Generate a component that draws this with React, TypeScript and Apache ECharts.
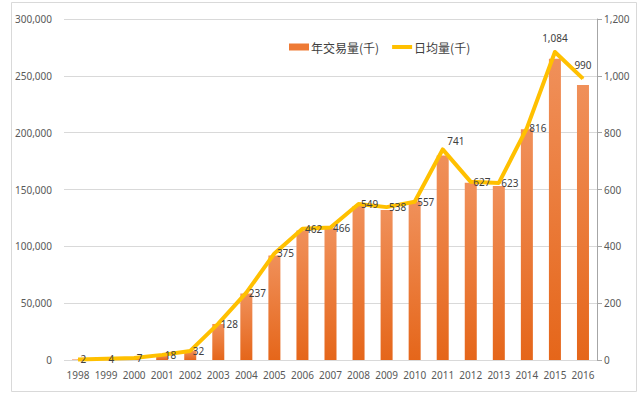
import React, { useEffect, useRef } from "react";
import * as echarts from "echarts";

const years = ["1998","1999","2000","2001","2002","2003","2004","2005","2006","2007","2008","2009","2010","2011","2012","2013","2014","2015","2016"];
const annualVolume = [500, 1000, 1700, 4400, 8000, 31700, 58500, 92000, 114000, 116000, 135500, 132000, 139500, 180000, 156000, 153000, 203000, 265000, 242000];
const dailyAvg = [2, 4, 7, 18, 32, 128, 237, 375, 462, 466, 549, 538, 557, 741, 627, 623, 816, 1084, 990];
const leftTicks = [0, 50000, 100000, 150000, 200000, 250000, 300000];
const rightTicks = [0, 200, 400, 600, 800, 1000, 1200];

const fmt = (v: number) => v.toLocaleString("en-US");

export default function App() {
  const ref = useRef<HTMLDivElement>(null);
  useEffect(() => {
    if (!ref.current) return;
    const chart = echarts.init(ref.current, null, { renderer: "svg" });
    const font = "'Noto Sans', sans-serif";
    const lineData = dailyAvg.map((v) => {
      if (v === 1084) return { value: v, label: { position: "top", distance: 8 } };
      if (v === 990) return { value: v, label: { position: "top", distance: 8 } };
      if (v === 741) return { value: v, label: { position: "right", offset: [2, -8] } };
      return v;
    });
    chart.setOption({
      animation: false,
      backgroundColor: "#ffffff",
      textStyle: { fontFamily: font },
      graphic: [
        {
          type: "rect",
          shape: { x: 11.5, y: 2.5, width: 625, height: 389 },
          style: { fill: "none", stroke: "#d9d9d9", lineWidth: 1 },
          silent: true,
        },
      ],
      legend: {
        top: 36,
        left: 284,
        itemGap: 13,
        itemWidth: 20,
        itemHeight: 7,
        textStyle: { fontSize: 12, color: "#404040", fontFamily: "'Noto Sans CJK SC', sans-serif", padding: [0, 0, 0, -3] },
        data: [
          { name: "年交易量(千)", icon: "rect", itemStyle: { color: "#ee7a35" } },
          { name: "日均量(千)", icon: "path://M0,0H20V4H0Z", itemStyle: { color: "#ffc000" } },
        ],
      },
      grid: { left: 64, right: 43, top: 19, bottom: 36 },
      xAxis: {
        type: "category",
        data: years,
        axisLine: { show: false },
        axisTick: { show: false },
        axisLabel: { color: "#595959", fontSize: 10, margin: 10, interval: 0, hideOverlap: false },
      },
      yAxis: [
        {
          type: "value",
          min: 0,
          max: leftTicks[leftTicks.length - 1],
          interval: leftTicks[1] - leftTicks[0],
          axisLine: { show: false },
          axisTick: { show: false },
          axisLabel: { color: "#595959", fontSize: 10, margin: 12, formatter: (v: number) => fmt(v) },
          splitLine: { lineStyle: { color: "#d9d9d9", width: 1 } },
        },
        {
          type: "value",
          position: "right",
          min: 0,
          max: rightTicks[rightTicks.length - 1],
          interval: rightTicks[1] - rightTicks[0],
          axisLine: { show: true, lineStyle: { color: "#a6a6a6" } },
          axisTick: { show: true, length: 5, lineStyle: { color: "#a6a6a6" } },
          axisLabel: { color: "#595959", fontSize: 10, margin: 7, formatter: (v: number) => fmt(v) },
          splitLine: { show: false },
        },
      ],
      series: [
        {
          name: "年交易量(千)",
          type: "bar",
          yAxisIndex: 0,
          barWidth: 12,
          data: annualVolume,
          itemStyle: {
            color: new echarts.graphic.LinearGradient(0, 0, 0, 1, [
              { offset: 0, color: "#f0905a" },
              { offset: 1, color: "#e5661a" },
            ]),
          },
        },
        {
          name: "日均量(千)",
          type: "line",
          yAxisIndex: 1,
          data: lineData,
          symbol: "circle",
          symbolSize: 1,
          showSymbol: true,
          lineStyle: { color: "#ffc000", width: 4, join: "round" },
          itemStyle: { color: "#ffc000" },
          z: 5,
          label: {
            show: true,
            position: "right",
            distance: 2,
            color: "#404040",
            fontSize: 10,
            formatter: (p: any) => fmt(p.value),
          },
        },
      ],
    });
    return () => chart.dispose();
  }, []);
  return (
    <div
      ref={ref}
      style={{ position: "fixed", left: 0, top: 0, width: 640, height: 396 }}
    />
  );
}
